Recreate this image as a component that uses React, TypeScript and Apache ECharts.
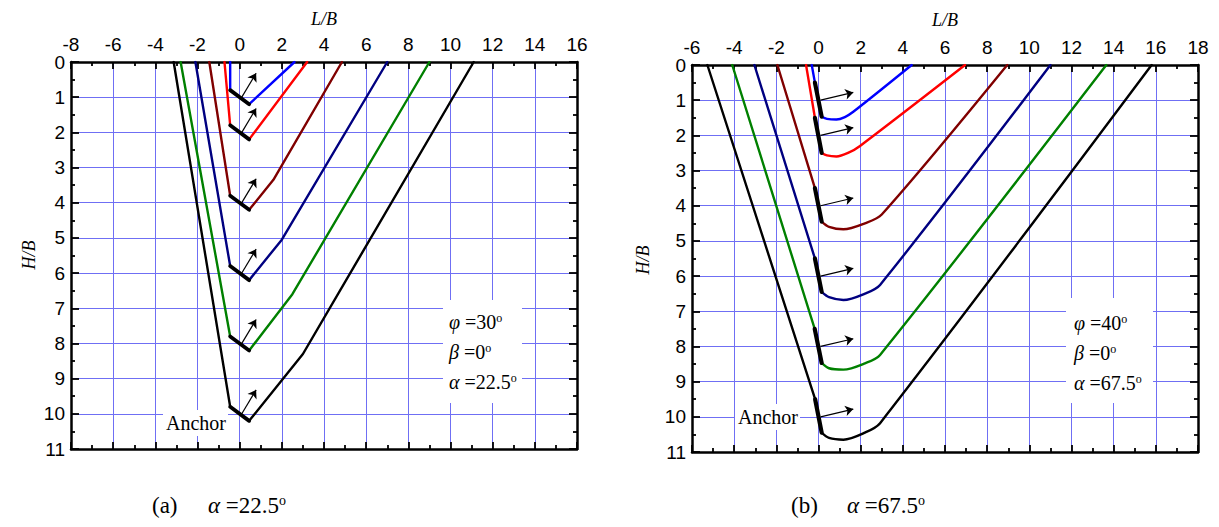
import React, { useEffect, useRef } from 'react';
import * as echarts from 'echarts';

// ---------- Panel (a): alpha = 22.5 deg ----------
const aXRange = [-8, 16];
const aYRange = [0, 11];
const aLeftLegs = [
  [[-0.45, 0], [-0.45, 0.8]],
  [[-0.72, 0], [-0.45, 1.8]],
  [[-1.44, 0], [-0.45, 3.8]],
  [[-2.1, 0], [-0.45, 5.8]],
  [[-2.8, 0], [-0.45, 7.8]],
  [[-3.13, 0], [-0.45, 9.8]],
];
const aAnchors = [
  [[-0.45, 0.8], [0.45, 1.2]],
  [[-0.45, 1.8], [0.45, 2.2]],
  [[-0.45, 3.8], [0.45, 4.2]],
  [[-0.45, 5.8], [0.45, 6.2]],
  [[-0.45, 7.8], [0.45, 8.2]],
  [[-0.45, 9.8], [0.45, 10.2]],
];
const aRightLegs = [
  [[0.45, 1.2], [2.6, 0]],
  [[0.45, 2.2], [3.2, 0]],
  [[0.45, 4.2], [1.6, 3.35], [4.85, 0]],
  [[0.45, 6.2], [2.0, 5.05], [7.0, 0]],
  [[0.45, 8.2], [2.5, 6.6], [9.0, 0]],
  [[0.45, 10.2], [3.0, 8.3], [11.1, 0]],
];
const aArrows = [
  [[0.08, 1.02], [0.78, 0.32]],
  [[0.08, 2.02], [0.78, 1.32]],
  [[0.08, 4.02], [0.78, 3.32]],
  [[0.08, 6.02], [0.78, 5.32]],
  [[0.08, 8.02], [0.78, 7.32]],
  [[0.08, 10.02], [0.78, 9.32]],
];
const aParams = [['φ', '30'], ['β', '0'], ['α', '22.5']];

// ---------- Panel (b): alpha = 67.5 deg ----------
const bXRange = [-6, 18];
const bYRange = [0, 11];
const bLeftLegs = [
  [[-0.32, 0], [-0.17, 0.5]],
  [[-0.59, 0], [-0.17, 1.5]],
  [[-1.95, 0], [-0.17, 3.5]],
  [[-3.04, 0], [-0.17, 5.5]],
  [[-4.09, 0], [-0.18, 7.5]],
  [[-5.27, 0], [-0.16, 9.5]],
];
const bAnchors = [
  [[-0.17, 0.5], [0.15, 1.47]],
  [[-0.17, 1.5], [0.15, 2.5]],
  [[-0.17, 3.5], [0.15, 4.45]],
  [[-0.17, 5.5], [0.15, 6.45]],
  [[-0.18, 7.5], [0.15, 8.47]],
  [[-0.16, 9.5], [0.15, 10.45]],
];
const bRightLegs = [
  [[0.15, 1.47], [0.4, 1.53], [0.85, 1.55], [1.25, 1.48], [1.65, 1.33], [4.42, 0]],
  [[0.15, 2.5], [0.4, 2.57], [0.85, 2.6], [1.4, 2.5], [1.97, 2.3], [6.95, 0]],
  [[0.15, 4.45], [0.5, 4.6], [1.18, 4.67], [2.2, 4.5], [3.0, 4.25], [8.95, 0]],
  [[0.15, 6.45], [0.5, 6.6], [1.18, 6.68], [2.2, 6.5], [2.92, 6.25], [11.0, 0]],
  [[0.15, 8.47], [0.5, 8.62], [1.18, 8.66], [2.2, 8.48], [2.92, 8.24], [13.65, 0]],
  [[0.15, 10.45], [0.5, 10.6], [1.18, 10.65], [2.2, 10.45], [2.92, 10.18], [15.8, 0]],
];
const bArrows = [
  [[0.1, 1.0], [1.65, 0.78]],
  [[0.1, 2.0], [1.65, 1.78]],
  [[0.1, 4.0], [1.65, 3.78]],
  [[0.1, 6.0], [1.65, 5.78]],
  [[0.1, 8.0], [1.65, 7.78]],
  [[0.1, 10.0], [1.65, 9.78]],
];
const bParams = [['φ', '40'], ['β', '0'], ['α', '67.5']];

const curveColors = ['#0000ff', '#ff0000', '#800000', '#000080', '#008000', '#000000'];

const serif = "'Liberation Serif', 'Times New Roman', serif";
const sans = "'Liberation Sans', Arial, sans-serif";
const gridColor = '#6f6ff4';

function xAxes(gridIndex: number, range: number[]) {
  const common = {
    gridIndex,
    type: 'value',
    min: range[0],
    max: range[1],
    interval: 2,
    axisLine: { show: true, onZero: false, lineStyle: { color: '#000', width: 2.5 } },
    axisTick: { show: true, inside: true, length: 7, lineStyle: { color: '#000', width: 1.8 } },
    minorTick: { show: true, splitNumber: 2, length: 4, lineStyle: { color: '#000', width: 1.8 } },
  };
  return [
    {
      ...common,
      position: 'top',
      axisLabel: { show: true, color: '#000', fontSize: 19, fontFamily: sans, margin: 8 },
      splitLine: { show: true, lineStyle: { color: gridColor, width: 1 } },
    },
    {
      ...common,
      position: 'bottom',
      axisLabel: { show: false },
      splitLine: { show: false },
    },
  ];
}

function yAxes(gridIndex: number, range: number[]) {
  const common = {
    gridIndex,
    type: 'value',
    min: range[0],
    max: range[1],
    interval: 1,
    inverse: true,
    axisLine: { show: true, onZero: false, lineStyle: { color: '#000', width: 2.5 } },
    axisTick: { show: true, inside: true, length: 8, lineStyle: { color: '#000', width: 1.8 } },
    minorTick: { show: true, splitNumber: 2, length: 4, lineStyle: { color: '#000', width: 1.8 } },
  };
  return [
    {
      ...common,
      position: 'left',
      axisLabel: { show: true, color: '#000', fontSize: 19, fontFamily: sans, margin: 6 },
      splitLine: { show: true, lineStyle: { color: gridColor, width: 1 } },
    },
    {
      ...common,
      position: 'right',
      axisLabel: { show: false },
      splitLine: { show: false },
    },
  ];
}

function panelSeries(
  leftLegs: number[][][],
  anchors: number[][][],
  rightLegs: number[][][],
  arrows: number[][][],
  xi: number,
  yi: number,
  anchorWidth: number,
  smoothRight: number
) {
  const s: any[] = [];
  const base = (data: number[][], color: string, width: number, smooth: number | boolean = false) => ({
    type: 'line',
    xAxisIndex: xi,
    yAxisIndex: yi,
    data,
    smooth,
    showSymbol: false,
    symbol: 'none',
    silent: true,
    z: 3,
    lineStyle: { color, width, cap: 'round', join: 'round' },
  });
  leftLegs.forEach((d, i) => s.push(base(d, curveColors[i], 2.4)));
  rightLegs.forEach((d, i) => s.push(base(d, curveColors[i], 2.4, smoothRight || false)));
  anchors.forEach((d) => s.push({ ...base(d, '#000', anchorWidth), z: 4 }));
  s.push({
    type: 'lines',
    coordinateSystem: 'cartesian2d',
    xAxisIndex: xi,
    yAxisIndex: yi,
    silent: true,
    z: 5,
    symbol: ['none', 'arrow'],
    symbolSize: 8,
    lineStyle: { color: '#000', width: 1.2, opacity: 1, curveness: 0 },
    data: arrows.map((c) => ({ coords: c })),
  });
  return s;
}

function paramTexts(params: string[][], x: number, y0: number, dy: number) {
  return params.map((p, i) => ({
    type: 'text',
    x,
    y: y0 + i * dy,
    z: 30,
    silent: true,
    style: {
      text: `{g|${p[0]}}{n| =${p[1]}}{s|o}`,
      verticalAlign: 'middle',
      rich: {
        g: { fontFamily: serif, fontStyle: 'italic', fontSize: 20, fill: '#000' },
        n: { fontFamily: serif, fontSize: 20, fill: '#000' },
        s: { fontFamily: serif, fontSize: 12, fill: '#000', verticalAlign: 'top' },
      },
    },
  }));
}

function whiteRect(x: number, y: number, width: number, height: number) {
  return { type: 'rect', z: 25, silent: true, shape: { x, y, width, height }, style: { fill: '#fff' } };
}

function plainText(text: string, x: number, y: number, font: string, extra: any = {}) {
  return {
    type: 'text',
    x,
    y,
    z: 30,
    silent: true,
    ...extra,
    style: { text, font, fill: '#000', align: 'center', verticalAlign: 'middle' },
  };
}

function caption(label: string, alphaVal: string, x: number, y: number) {
  return [
    {
      type: 'text', x, y, z: 30, silent: true,
      style: { text: label, font: `23px ${serif}`, fill: '#000', verticalAlign: 'middle' },
    },
    {
      type: 'text', x: x + 56, y, z: 30, silent: true,
      style: {
        text: `{g|α}{n| =${alphaVal}}{s|o}`,
        verticalAlign: 'middle',
        rich: {
          g: { fontFamily: serif, fontStyle: 'italic', fontSize: 23, fill: '#000' },
          n: { fontFamily: serif, fontSize: 23, fill: '#000' },
          s: { fontFamily: serif, fontSize: 14, fill: '#000', verticalAlign: 'top' },
        },
      },
    },
  ];
}

export default function App() {
  const ref = useRef<HTMLDivElement>(null);
  useEffect(() => {
    if (!ref.current) return;
    const chart = echarts.init(ref.current, undefined, { renderer: 'svg' });
    const option: any = {
      animation: false,
      backgroundColor: '#fff',
      grid: [
        { left: 71, top: 62, width: 506, height: 387 },
        { left: 692, top: 65, width: 506, height: 387 },
      ],
      xAxis: [...xAxes(0, aXRange), ...xAxes(1, bXRange)],
      yAxis: [...yAxes(0, aYRange), ...yAxes(1, bYRange)],
      series: [
        ...panelSeries(aLeftLegs, aAnchors, aRightLegs, aArrows, 0, 0, 3.8, 0),
        ...panelSeries(bLeftLegs, bAnchors, bRightLegs, bArrows, 2, 2, 4.2, 0.3),
      ],
      graphic: [
        // axis titles
        plainText('L/B', 324, 19, `italic 18px ${serif}`),
        plainText('L/B', 945, 20, `italic 18px ${serif}`),
        plainText('H/B', 29, 255, `italic 18px ${serif}`, { rotation: Math.PI / 2 }),
        plainText('H/B', 643, 260, `italic 18px ${serif}`, { rotation: Math.PI / 2 }),
        // parameter boxes
        whiteRect(443, 300, 79, 103),
        ...paramTexts(aParams, 449, 322, 30),
        whiteRect(1066, 298, 87, 105),
        ...paramTexts(bParams, 1074, 323, 30),
        // Anchor labels
        whiteRect(163, 410, 65, 26),
        { type: 'text', x: 166, y: 423, z: 30, silent: true, style: { text: 'Anchor', font: `20px ${serif}`, fill: '#000', verticalAlign: 'middle' } },
        whiteRect(735, 404, 65, 26),
        { type: 'text', x: 738, y: 417, z: 30, silent: true, style: { text: 'Anchor', font: `20px ${serif}`, fill: '#000', verticalAlign: 'middle' } },
        // captions
        ...caption('(a)', '22.5', 152, 505),
        ...caption('(b)', '67.5', 791, 505),
      ],
    };
    chart.setOption(option);
    return () => chart.dispose();
  }, []);
  return (
    <div
      ref={ref}
      style={{ position: 'fixed', left: 0, top: 0, width: 1219, height: 527, background: '#fff' }}
    />
  );
}
